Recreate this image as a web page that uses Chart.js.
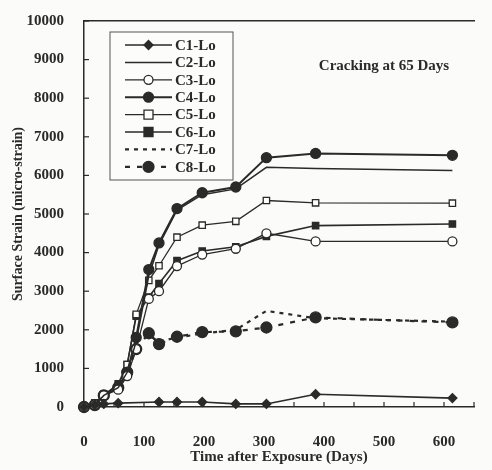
<!DOCTYPE html>
<html>
<head>
<meta charset="utf-8">
<script src="https://cdn.jsdelivr.net/npm/chart.js@4/dist/chart.umd.min.js"></script>
<style>
    body { margin: 0; background: #fbfbf9; }
    #wrap { width: 492px; height: 470px; }
</style>
</head>
<body>
<div id="wrap"><canvas id="strain"></canvas></div>
<script>
// days after exposure (shared by most series)
const days = [0, 18, 33, 57, 72, 87, 108, 125, 155, 197, 253, 304, 386, 614];
const daysC1 = [0, 18, 33, 57, 125, 155, 197, 253, 304, 386, 614];

const c1 = [0, 50, 80, 100, 130, 130, 130, 80, 80, 330, 230];
const c2 = [0, 50, 300, 500, 900, 1700, 3400, 4200, 5100, 5500, 5650, 6210, 6180, 6130];
const c3 = [0, 50, 300, 450, 800, 1500, 2800, 3000, 3650, 3950, 4100, 4500, 4290, 4290];
const c4 = [0, 50, 300, 500, 900, 1800, 3560, 4250, 5140, 5550, 5700, 6460, 6570, 6520];
const c5 = [0, 100, 330, 550, 1100, 2400, 3280, 3660, 4400, 4710, 4810, 5350, 5290, 5280];
const c6 = [0, 100, 300, 600, 1100, 2350, 2850, 3200, 3790, 4040, 4150, 4420, 4700, 4740];
const c7 = [0, 50, 300, 500, 900, 1700, 1850, 1700, 1800, 1900, 2000, 2490, 2300, 2210];
const c8 = [0, 50, 300, 500, 900, 1500, 1910, 1630, 1820, 1940, 1960, 2060, 2320, 2190];

const seriesNames = ['C1-Lo', 'C2-Lo', 'C3-Lo', 'C4-Lo', 'C5-Lo', 'C6-Lo', 'C7-Lo', 'C8-Lo'];
const xTicks = [0, 100, 200, 300, 400, 500, 600];

const ink = '#2a2a2a';
const serif = "'Liberation Serif', 'DejaVu Serif', serif";

function pairs(xs, ys) {
    return ys.map((v, i) => ({x: xs[i], y: v}));
}

function drawMarker(ctx, style, r, fill, x, y) {
    ctx.save();
    ctx.beginPath();
    if (style === 'circle') {
        ctx.arc(x, y, r, 0, Math.PI * 2);
    } else if (style === 'rect') {
        ctx.rect(x - r, y - r, 2 * r, 2 * r);
    } else if (style === 'rectRot') {
        ctx.moveTo(x, y - r); ctx.lineTo(x + r, y); ctx.lineTo(x, y + r); ctx.lineTo(x - r, y); ctx.closePath();
    }
    ctx.fillStyle = fill;
    ctx.fill();
    ctx.lineWidth = 1.3;
    ctx.strokeStyle = ink;
    ctx.stroke();
    ctx.restore();
}

// legend box inside the plot + annotation + inside tick marks
const extras = {
    id: 'extras',
    afterDraw(chart) {
        const ctx = chart.ctx;
        const a = chart.chartArea;
        const xs = chart.scales.x, ys = chart.scales.y;

        ctx.save();
        ctx.strokeStyle = ink;
        ctx.lineWidth = 1.2;
        ys.ticks.forEach(t => {
            const py = ys.getPixelForValue(t.value);
            ctx.beginPath(); ctx.moveTo(a.left, py); ctx.lineTo(a.left + 5, py); ctx.stroke();
        });
        xs.ticks.forEach(t => {
            const px = xs.getPixelForValue(t.value);
            ctx.beginPath(); ctx.moveTo(px, a.bottom); ctx.lineTo(px, a.bottom - 5); ctx.stroke();
        });

        // annotation
        ctx.fillStyle = ink;
        ctx.font = 'bold 15px ' + serif;
        ctx.textAlign = 'center';
        ctx.textBaseline = 'middle';
        ctx.fillText('Cracking at 65 Days', a.left + 300, a.top + 45);

        // legend
        const bx = a.left + 26, by = a.top + 11, bw = 123, bh = 148;
        ctx.fillStyle = '#fcfcfa';
        ctx.fillRect(bx, by, bw, bh);
        ctx.lineWidth = 1;
        ctx.strokeStyle = '#555';
        ctx.strokeRect(bx, by, bw, bh);
        chart.data.datasets.forEach((ds, i) => {
            const cy = by + 13 + i * 17.4;
            const x0 = bx + 15, x1 = bx + 62;
            ctx.save();
            ctx.strokeStyle = ds.borderColor;
            ctx.lineWidth = ds.borderWidth;
            ctx.setLineDash(ds.borderDash || []);
            ctx.beginPath(); ctx.moveTo(x0, cy); ctx.lineTo(x1, cy); ctx.stroke();
            ctx.restore();
            if (ds.pointRadius > 0) {
                drawMarker(ctx, ds.pointStyle, ds.pointRadius, ds.pointBackgroundColor, (x0 + x1) / 2, cy);
            }
            ctx.fillStyle = ink;
            ctx.font = 'bold 15px ' + serif;
            ctx.textAlign = 'left';
            ctx.textBaseline = 'middle';
            ctx.fillText(ds.label, x1 + 3, cy + 1);
        });
        ctx.restore();
    }
};

function line(label, xs, ys, style, fill, radius, width, dash) {
    return {
        label: label,
        data: pairs(xs, ys),
        borderColor: ink,
        borderWidth: width,
        borderDash: dash,
        pointStyle: style,
        pointRadius: radius,
        pointBackgroundColor: fill,
        pointBorderColor: ink,
        pointBorderWidth: 1.3,
        tension: 0,
        clip: false
    };
}

const ctx = document.getElementById('strain').getContext('2d');
new Chart(ctx, {
    type: 'line',
    data: {
        datasets: [
            line(seriesNames[0], daysC1, c1, 'rectRot', ink, 4.5, 1.6, []),
            line(seriesNames[1], days, c2, 'circle', ink, 0, 1.5, []),
            line(seriesNames[2], days, c3, 'circle', '#fff', 4.5, 1.3, []),
            line(seriesNames[3], days, c4, 'circle', ink, 5, 2, []),
            line(seriesNames[4], days, c5, 'rect', '#fff', 4.5, 1.3, []),
            line(seriesNames[5], days, c6, 'rect', ink, 4.5, 1.6, []),
            line(seriesNames[6], days, c7, 'circle', ink, 0, 2.2, [4, 5]),
            line(seriesNames[7], days, c8, 'circle', ink, 5.5, 2.2, [5, 7])
        ]
    },
    options: {
        responsive: true,
        maintainAspectRatio: false,
        animation: false,
        layout: {
            padding: {left: 0, top: 13, right: 2, bottom: 0}
        },
        plugins: {
            legend: {display: false},
            tooltip: {enabled: false}
        },
        scales: {
            x: {
                type: 'linear',
                min: 0,
                max: 650,
                afterFit: s => { s.height = 63; },
                grid: {display: false},
                border: {color: ink, width: 1.5},
                ticks: {
                    stepSize: 50,
                    padding: 18,
                    maxRotation: 0,
                    autoSkip: false,
                    color: ink,
                    font: {family: serif, size: 15, weight: 'bold'},
                    callback: v => xTicks.includes(v) ? String(v) : ''
                },
                title: {
                    display: true,
                    text: 'Time after Exposure (Days)',
                    color: ink,
                    padding: {top: 0, bottom: 4},
                    font: {family: serif, size: 15, weight: 'bold'}
                }
            },
            top: {
                type: 'linear',
                position: 'top',
                min: 0,
                max: 650,
                afterFit: s => { s.height = 0; },
                grid: {display: false},
                border: {color: ink, width: 1.5},
                ticks: {display: false}
            },
            y: {
                min: 0,
                max: 10000,
                afterFit: s => { s.width = 84; },
                grid: {display: false},
                border: {color: ink, width: 1.5},
                ticks: {
                    stepSize: 1000,
                    padding: 12,
                    color: ink,
                    font: {family: serif, size: 15, weight: 'bold'},
                    callback: v => String(v)
                },
                title: {
                    display: true,
                    text: 'Surface Strain (micro-strain)',
                    color: ink,
                    padding: {top: 10, bottom: 0},
                    font: {family: serif, size: 14, weight: 'bold'}
                }
            }
        }
    },
    plugins: [extras]
});
</script>
</body>
</html>
